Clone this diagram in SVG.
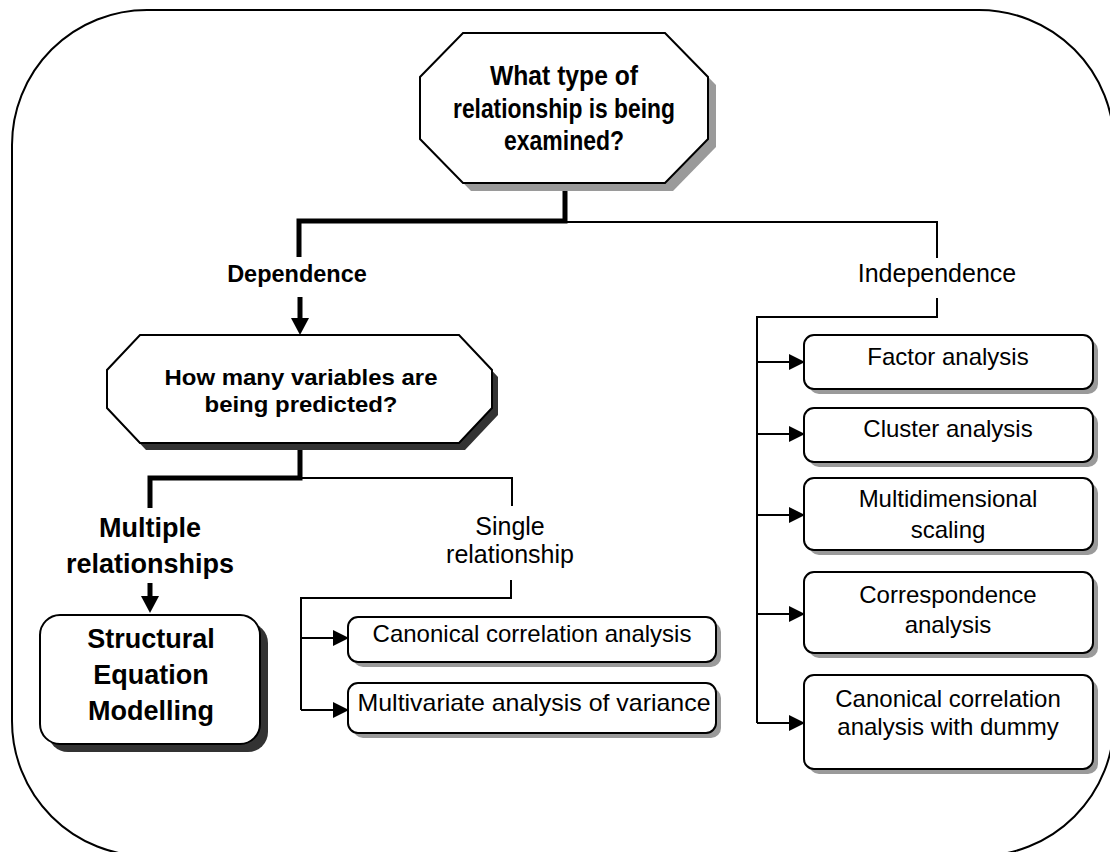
<svg xmlns="http://www.w3.org/2000/svg" width="1110" height="852" viewBox="0 0 1110 852">
  <style>
    .frame{fill:none;stroke:#000;stroke-width:2}
    .box{fill:#fff;stroke:#000;stroke-width:2}
    .sh-light{fill:#9a9a9a}
    .sh-dark{fill:#333}
    .thick{fill:none;stroke:#000;stroke-width:5}
    .thin{fill:none;stroke:#000;stroke-width:2}
    text{font-family:"Liberation Sans",Arial,sans-serif;fill:#000;text-anchor:middle}
    .b{font-weight:bold}
    .r{font-size:24px}
  </style>
  <defs>
    <marker id="ah" markerUnits="userSpaceOnUse" markerWidth="16" markerHeight="16" refX="0" refY="8" orient="auto">
      <path d="M0,0 L16,8 L0,16 z" fill="#000"/>
    </marker>
    <marker id="ahBig" markerUnits="userSpaceOnUse" markerWidth="18" markerHeight="18" refX="0" refY="9" orient="auto">
      <path d="M0,0 L17,9 L0,18 z" fill="#000"/>
    </marker>
  </defs>

  <!-- outer rounded frame -->
  <rect class="frame" x="12" y="10" width="1102" height="846" rx="135" ry="135"/>

  <!-- connectors -->
  <g id="connectors">
    <path class="thick" d="M565,183 V221 H299 V257"/>
    <path class="thin" d="M565,222 H937 V258"/>
    <path class="thick" d="M300,297 V318" marker-end="url(#ahBig)"/>

    <path class="thick" d="M300,443 V478 H150 V508"/>
    <path class="thin" d="M300,478 H512 V506"/>
    <path class="thick" d="M150,583 V596" marker-end="url(#ahBig)"/>

    <path class="thin" d="M511,580 V598 H301 V710"/>
    <path class="thin" d="M301,638 H333" marker-end="url(#ah)"/>
    <path class="thin" d="M301,710 H333" marker-end="url(#ah)"/>

    <path class="thin" d="M937,298 V317 H757 V723"/>
    <path class="thin" d="M757,362 H789" marker-end="url(#ah)"/>
    <path class="thin" d="M757,434 H789" marker-end="url(#ah)"/>
    <path class="thin" d="M757,515 H789" marker-end="url(#ah)"/>
    <path class="thin" d="M757,614 H789" marker-end="url(#ah)"/>
    <path class="thin" d="M757,723 H789" marker-end="url(#ah)"/>
  </g>

  <!-- branch labels -->
  <g id="labels">
    <text class="b" x="297" y="282" font-size="23.5">Dependence</text>
    <text x="937" y="282" font-size="25">Independence</text>
    <text class="b" x="150" y="537" font-size="27">Multiple</text>
    <text class="b" x="150" y="573" font-size="27">relationships</text>
    <text x="510" y="535" font-size="25">Single</text>
    <text x="510" y="563" font-size="25">relationship</text>
  </g>

  <!-- question: relationship type -->
  <g id="q-type">
    <path class="sh-light" transform="translate(8,8)" d="M463,33 L665,33 L708,77 L708,139 L665,183 L463,183 L420,139 L420,77 Z"/>
    <path class="box" d="M463,33 L665,33 L708,77 L708,139 L665,183 L463,183 L420,139 L420,77 Z"/>
    <text class="b" x="564" y="85" font-size="28" textLength="148" lengthAdjust="spacingAndGlyphs">What type of</text>
    <text class="b" x="564" y="118" font-size="28" textLength="222" lengthAdjust="spacingAndGlyphs">relationship is being</text>
    <text class="b" x="564" y="150" font-size="28" textLength="120" lengthAdjust="spacingAndGlyphs">examined?</text>
  </g>

  <!-- question: number of predicted variables -->
  <g id="q-count">
    <path class="sh-dark" transform="translate(6,7)" d="M140,335 L459,335 L492,370 L492,408 L459,443 L140,443 L107,408 L107,370 Z"/>
    <path class="box" d="M140,335 L459,335 L492,370 L492,408 L459,443 L140,443 L107,408 L107,370 Z"/>
    <text class="b" x="301" y="385" font-size="22" textLength="273" lengthAdjust="spacingAndGlyphs">How many variables are</text>
    <text class="b" x="301" y="412" font-size="22" textLength="193" lengthAdjust="spacingAndGlyphs">being predicted?</text>
  </g>

  <!-- structural equation modelling -->
  <g id="sem">
    <rect class="sh-dark" x="48" y="623" width="220" height="129" rx="20"/>
    <rect class="box" x="40" y="615" width="220" height="129" rx="20"/>
    <text class="b" x="151" y="648" font-size="27">Structural</text>
    <text class="b" x="151" y="684" font-size="27">Equation</text>
    <text class="b" x="151" y="720" font-size="27">Modelling</text>
  </g>

  <!-- single relationship techniques -->
  <g id="cca">
    <rect class="sh-light" x="353" y="622" width="368" height="45" rx="10"/>
    <rect class="box" x="348" y="617" width="368" height="45" rx="10"/>
    <text class="r" x="532" y="642">Canonical correlation analysis</text>
  </g>
  <g id="manova">
    <rect class="sh-light" x="353" y="688" width="368" height="50" rx="10"/>
    <rect class="box" x="348" y="683" width="368" height="50" rx="10"/>
    <text class="r" x="534" y="711" textLength="353" lengthAdjust="spacingAndGlyphs">Multivariate analysis of variance</text>
  </g>

  <!-- independence techniques -->
  <g id="factor">
    <rect class="sh-light" x="809" y="340" width="289" height="54" rx="10"/>
    <rect class="box" x="804" y="335" width="289" height="54" rx="10"/>
    <text class="r" x="948" y="365">Factor analysis</text>
  </g>
  <g id="cluster">
    <rect class="sh-light" x="809" y="413" width="289" height="54" rx="10"/>
    <rect class="box" x="804" y="408" width="289" height="54" rx="10"/>
    <text class="r" x="948" y="437">Cluster analysis</text>
  </g>
  <g id="mds">
    <rect class="sh-light" x="809" y="483" width="289" height="72" rx="10"/>
    <rect class="box" x="804" y="478" width="289" height="72" rx="10"/>
    <text class="r" x="948" y="507">Multidimensional</text>
    <text class="r" x="948" y="538">scaling</text>
  </g>
  <g id="correspondence">
    <rect class="sh-light" x="809" y="577" width="289" height="81" rx="10"/>
    <rect class="box" x="804" y="572" width="289" height="81" rx="10"/>
    <text class="r" x="948" y="603">Correspondence</text>
    <text class="r" x="948" y="633">analysis</text>
  </g>
  <g id="cca-dummy">
    <rect class="sh-light" x="809" y="680" width="289" height="94" rx="10"/>
    <rect class="box" x="804" y="675" width="289" height="94" rx="10"/>
    <text class="r" x="948" y="707">Canonical correlation</text>
    <text class="r" x="948" y="735">analysis with dummy</text>
  </g>
</svg>
